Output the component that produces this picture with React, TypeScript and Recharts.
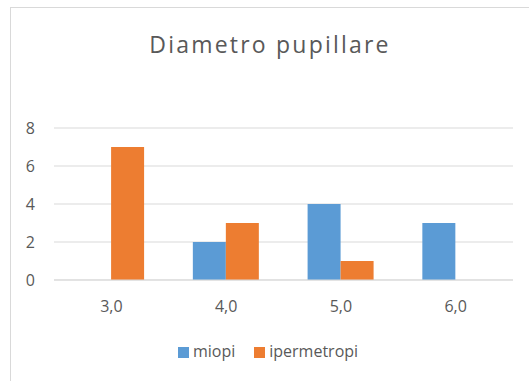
import { BarChart, Bar, XAxis, YAxis, CartesianGrid, Legend } from 'recharts';

const categories = ['3,0', '4,0', '5,0', '6,0'];
const miopi = [0, 2, 4, 3];
const ipermetropi = [7, 3, 1, 0];
const yTicks = [0, 2, 4, 6, 8];

const data = categories.map((cat, i) => ({
  cat,
  miopi: miopi[i],
  ipermetropi: ipermetropi[i],
}));

const FONT = '"Open Sans", "Noto Sans", sans-serif';
const TEXT = '#595959';

export default function App() {
  return (
    <div style={{ position: 'absolute', left: 0, top: 0, width: 529, height: 381, background: '#fff', overflow: 'hidden', fontFamily: FONT }}>
      <div style={{ position: 'absolute', left: 10, top: 7, width: 530, height: 390, border: '1px solid #d9d9d9', boxSizing: 'border-box' }} />
      <div style={{ position: 'absolute', left: 10, top: 28, width: 520, textAlign: 'center', fontSize: 23, letterSpacing: 2.2, color: TEXT }}>
        Diametro pupillare
      </div>
      <div style={{ position: 'absolute', left: 0, top: 0 }}>
        <BarChart
          width={529}
          height={381}
          data={data}
          margin={{ top: 128, right: 16, bottom: 49, left: 0 }}
          barGap={0}
          barCategoryGap="21%"
        >
          <CartesianGrid vertical={false} stroke="#d9d9d9" />
          <XAxis
            dataKey="cat"
            axisLine={{ stroke: '#d9d9d9' }}
            tickLine={false}
            tickSize={0}
            tickMargin={21}
            tick={{ fill: TEXT, fontSize: 16, fontFamily: FONT }}
          />
          <YAxis
            width={54}
            domain={[0, 8]}
            ticks={yTicks}
            axisLine={false}
            tickLine={false}
            tickSize={0}
            tickMargin={19}
            tick={{ fill: TEXT, fontSize: 16, fontFamily: FONT }}
          />
          <Legend
            verticalAlign="bottom"
            iconType="square"
            iconSize={11}
            itemSorter={null}
            wrapperStyle={{ position: 'absolute', top: 340, left: 13, width: 529, fontSize: 16, fontFamily: FONT }}
            formatter={(v) => <span style={{ color: TEXT, paddingRight: 9 }}>{v}</span>}
          />
          <Bar dataKey="miopi" name="miopi" fill="#5B9BD5" isAnimationActive={false} />
          <Bar dataKey="ipermetropi" name="ipermetropi" fill="#ED7D31" isAnimationActive={false} />
        </BarChart>
      </div>
    </div>
  );
}
